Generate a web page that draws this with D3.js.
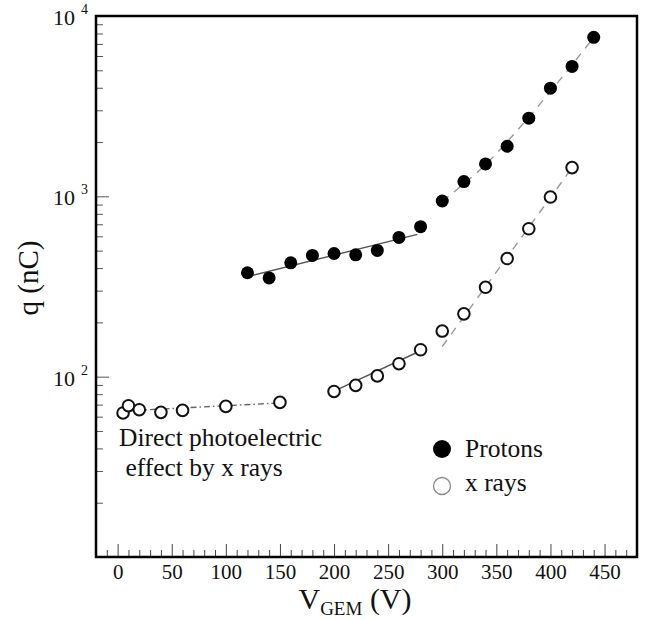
<!DOCTYPE html>
<html>
<head>
<meta charset="utf-8">
<script src="https://cdn.jsdelivr.net/npm/d3@7"></script>
<style>
  body { margin: 0; background: #fff; }
  text { font-family: "Liberation Serif", "Times New Roman", serif; fill: #111; }
</style>
</head>
<body>
<div id="chart"></div>
<script>
// values
const protonV = [120, 140, 160, 180, 200, 220, 240, 260, 280, 300, 320, 340, 360, 380, 400, 420, 440]
const protonQ = [377, 353, 428, 470, 482, 474, 501, 592, 679, 942, 1207, 1513, 1895, 2713, 3981, 5250, 7618]
const xrayV = [5, 10, 20, 40, 60, 100, 150, 200, 220, 240, 260, 280, 300, 320, 340, 360, 380, 400, 420]
const xrayQ = [62.9, 69, 65.6, 63.4, 65, 68.4, 72, 82.8, 89.5, 101, 118, 141, 179, 223, 313, 452, 661, 991, 1443]

// fitted curves, [V, q] nodes
const protonFitLow = [[122, 361], [277, 615]]
const protonFitHigh = [[300, 940], [340, 1500], [380, 2750], [440, 7600]]
const xrayFitLow = [[5, 64.5], [150, 71.5]]
const xrayFitMid = [[198, 82], [282, 141]]
const xrayFitHigh = [[300, 147], [420, 1440]]

const xMajor = d3.range(0, 451, 50)
const xMinor = d3.range(-10, 471, 10).filter(v => v % 50 !== 0)
const yMajor = [10, 100, 1000, 10000]
const yMinor = [10, 100, 1000].flatMap(d => d3.range(2, 10).map(k => k * d))

const legendItems = ['Protons', 'x rays']
const noteLines = ['Direct photoelectric', ' effect by x rays']

const w = 652, h = 620
const mLeft = 96, mRight = 637, mTop = 16, mBottom = 557

const x = d3.scaleLinear().domain([-20, 480]).range([mLeft, mRight])
const y = d3.scaleLog().domain([10, 10000]).range([mBottom, mTop])

const svg = d3.select('#chart').append('svg')
  .attr('width', w)
  .attr('height', h)

// ticks
svg.append('g')
  .attr('transform', `translate(0,${mBottom})`)
  .call(d3.axisBottom(x).tickValues(xMinor).tickSizeInner(-7).tickSizeOuter(0).tickFormat(''))
  .call(g => g.select('.domain').remove())
  .call(g => g.selectAll('line').attr('stroke', '#444'))

svg.append('g')
  .attr('transform', `translate(0,${mBottom})`)
  .call(d3.axisBottom(x).tickValues(xMajor).tickSizeInner(-13).tickSizeOuter(0).tickPadding(7))
  .call(g => g.select('.domain').remove())
  .call(g => g.selectAll('line').attr('stroke', '#444'))
  .call(g => g.selectAll('text').attr('font-size', '21px').attr('fill', '#222'))

svg.append('g')
  .attr('transform', `translate(${mLeft},0)`)
  .call(d3.axisLeft(y).tickValues(yMinor).tickSizeInner(-7).tickSizeOuter(0).tickFormat(''))
  .call(g => g.select('.domain').remove())
  .call(g => g.selectAll('line').attr('stroke', '#555'))

const yAxis = svg.append('g')
  .attr('transform', `translate(${mLeft},0)`)
  .call(d3.axisLeft(y).tickValues(yMajor.slice(1)).tickSizeInner(-13).tickSizeOuter(0).tickFormat(''))
yAxis.select('.domain').remove()
yAxis.selectAll('line').attr('stroke', '#555')

const yLab = svg.append('g').selectAll('text')
  .data(yMajor.slice(1))
  .enter()
  .append('text')
  .attr('x', mLeft - 43)
  .attr('y', d => y(d) + 9)
  .attr('font-size', '22px')
  .attr('fill', '#222')
yLab.append('tspan').text('10')
yLab.append('tspan')
  .attr('dx', 6)
  .attr('dy', -11)
  .attr('font-size', '14px')
  .text(d => Math.round(Math.log10(d)))

// frame
svg.append('rect')
  .attr('x', mLeft)
  .attr('y', mTop)
  .attr('width', mRight - mLeft)
  .attr('height', mBottom - mTop)
  .attr('fill', 'none')
  .attr('stroke', '#000')
  .attr('stroke-width', 2.5)

// fit curves
const line = d3.line().x(d => x(d[0])).y(d => y(d[1]))
const smooth = d3.line().x(d => x(d[0])).y(d => y(d[1])).curve(d3.curveMonotoneX)

const fits = [
  { pts: protonFitLow, gen: line, color: '#555', dash: null },
  { pts: protonFitHigh, gen: smooth, color: '#999', dash: '8,7' },
  { pts: xrayFitLow, gen: line, color: '#666', dash: '6,3,1.5,3' },
  { pts: xrayFitMid, gen: line, color: '#555', dash: null },
  { pts: xrayFitHigh, gen: line, color: '#999', dash: '8,7' },
]
svg.append('g').selectAll('path')
  .data(fits)
  .enter()
  .append('path')
  .attr('d', d => d.gen(d.pts))
  .attr('fill', 'none')
  .attr('stroke', d => d.color)
  .attr('stroke-width', 1.4)
  .attr('stroke-dasharray', d => d.dash)

// points
svg.append('g').selectAll('circle')
  .data(xrayV.map((v, i) => [v, xrayQ[i]]))
  .enter()
  .append('circle')
  .attr('cx', d => x(d[0]))
  .attr('cy', d => y(d[1]))
  .attr('r', 5.8)
  .attr('fill', '#fff')
  .attr('stroke', '#111')
  .attr('stroke-width', 2)

svg.append('g').selectAll('circle')
  .data(protonV.map((v, i) => [v, protonQ[i]]))
  .enter()
  .append('circle')
  .attr('cx', d => x(d[0]))
  .attr('cy', d => y(d[1]))
  .attr('r', 6.5)
  .attr('fill', '#000')

// legend
const lg = svg.append('g').selectAll('g')
  .data(legendItems)
  .enter()
  .append('g')
  .attr('transform', (d, i) => `translate(442,${449 + i * 37})`)
lg.append('circle')
  .attr('r', d => d === 'Protons' ? 9 : 8.5)
  .attr('fill', d => d === 'Protons' ? '#000' : '#fff')
  .attr('stroke', d => d === 'Protons' ? 'none' : '#888')
  .attr('stroke-width', 1.3)
lg.append('text')
  .attr('x', 23)
  .attr('y', (d, i) => i === 0 ? 8 : 5)
  .attr('font-size', '25.5px')
  .text(d => d)

// note
svg.append('g').selectAll('text')
  .data(noteLines)
  .enter()
  .append('text')
  .attr('x', 119)
  .attr('y', (d, i) => 446 + i * 30)
  .attr('font-size', '25.5px')
  .style('white-space', 'pre')
  .text(d => d)

// axis titles
const xt = svg.append('text')
  .attr('x', 355)
  .attr('y', 609)
  .attr('text-anchor', 'middle')
  .attr('font-size', '30px')
xt.append('tspan').text('V')
xt.append('tspan').attr('dy', 6).attr('font-size', '19px').text('GEM')
xt.append('tspan').attr('dy', -6).text(' (V)')

svg.append('text')
  .attr('transform', 'translate(38,278) rotate(-90)')
  .attr('text-anchor', 'middle')
  .attr('font-size', '29px')
  .text('q (nC)')
</script>
</body>
</html>
